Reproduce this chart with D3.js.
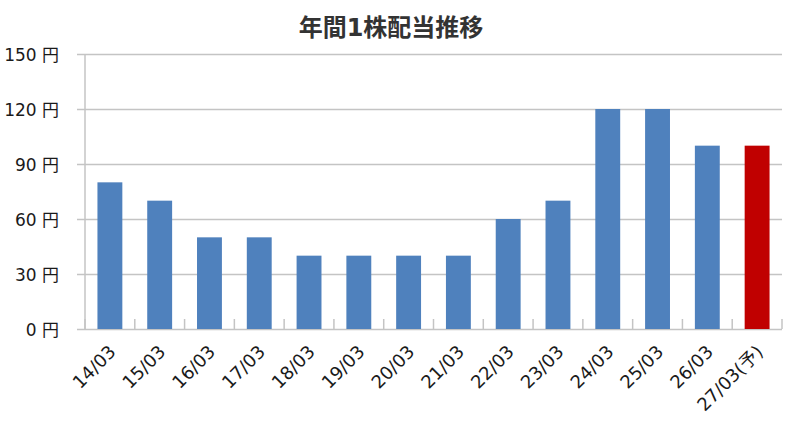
<!DOCTYPE html>
<html>
<head>
<meta charset="utf-8">
<script src="https://cdn.jsdelivr.net/npm/d3@7"></script>
<style>
  body { margin: 0; background: #fff; }
  #graph { width: 790px; height: 429px; }
  text { font-family: "DejaVu Sans", "Noto Sans CJK JP", sans-serif; }
</style>
</head>
<body>
<div id="graph"></div>
<script>
/* Data */
const years = ["14/03", "15/03", "16/03", "17/03", "18/03", "19/03", "20/03",
               "21/03", "22/03", "23/03", "24/03", "25/03", "26/03", "27/03(予)"];
const dividends = [80, 70, 50, 50, 40, 40, 40, 40, 60, 70, 120, 120, 100, 100];
const forecast = [false, false, false, false, false, false, false,
                  false, false, false, false, false, false, true];
const yTicks = [0, 30, 60, 90, 120, 150];

window.addEventListener("DOMContentLoaded", main)

function main() {
    const W = 790, H = 429;
    const left = 85, right = 782, top = 54, bottom = 329;
    const gridColor = "#c4c4c4";
    const barColor = "#4f81bd";
    const forecastColor = "#c00000";

    const svg = d3.select("#graph").append("svg").attr("width", W).attr("height", H);

    /* Title */
    svg.append("text")
        .attr("x", 391)
        .attr("y", 36)
        .attr("text-anchor", "middle")
        .style("font-size", "24px")
        .style("font-weight", "bold")
        .style("fill", "#333")
        .text("年間1株配当推移");

    const data = years.map((y, i) => ({ year: y, value: dividends[i], forecast: forecast[i] }));

    const xScale = d3.scaleBand()
        .domain(years)
        .range([left, right])
        .paddingInner(0.5)
        .paddingOuter(0.25);

    const yScale = d3.scaleLinear()
        .domain([0, 150])
        .range([bottom, top]);

    /* Grid lines + y labels */
    const yAxis = d3.axisLeft(yScale)
        .tickValues(yTicks)
        .tickSize(-(right - left) - 8)
        .tickPadding(0)
        .tickFormat(d => d + " 円");

    const gy = svg.append("g")
        .attr("transform", "translate(" + (right) + ",0)")
        .call(yAxis);
    gy.select(".domain").remove();
    gy.selectAll(".tick line")
        .attr("x1", 0)
        .attr("x2", -(right - left) - 8)
        .attr("stroke", gridColor)
        .attr("stroke-width", 1.5);
    gy.selectAll(".tick text")
        .attr("x", -(right - 59))
        .attr("dy", "0.36em")
        .style("font-size", "17px")
        .style("fill", "#1a1a1a")
        .style("font-family", "'DejaVu Sans', 'Noto Sans CJK JP', sans-serif");

    /* Y axis line */
    svg.append("line")
        .attr("x1", left).attr("x2", left)
        .attr("y1", top).attr("y2", bottom)
        .attr("stroke", gridColor)
        .attr("stroke-width", 1.5);

    /* Bars */
    svg.selectAll(".bar")
        .data(data)
        .enter()
        .append("rect")
        .attr("class", "bar")
        .attr("x", d => xScale(d.year))
        .attr("width", xScale.bandwidth())
        .attr("y", d => yScale(d.value))
        .attr("height", d => yScale(0) - yScale(d.value))
        .attr("fill", d => d.forecast ? forecastColor : barColor);

    /* Category boundary ticks (pointing up) */
    const step = xScale.step();
    const bounds = years.map(y => xScale(y) - step * 0.25).concat([right]);
    svg.selectAll(".cat-tick")
        .data(bounds)
        .enter()
        .append("line")
        .attr("class", "cat-tick")
        .attr("x1", d => d).attr("x2", d => d)
        .attr("y1", bottom).attr("y2", bottom - 10)
        .attr("stroke", gridColor)
        .attr("stroke-width", 1.5);

    /* X labels, rotated */
    svg.selectAll(".xlabel")
        .data(data)
        .enter()
        .append("text")
        .attr("class", "xlabel")
        .attr("transform", d => {
            const cx = xScale(d.year) + xScale.bandwidth() / 2 + 7;
            return "translate(" + cx + "," + (bottom + 24) + ") rotate(-45)";
        })
        .attr("text-anchor", "end")
        .style("font-size", "18px")
        .style("fill", "#1a1a1a")
        .text(d => d.year);
}
</script>
</body>
</html>
